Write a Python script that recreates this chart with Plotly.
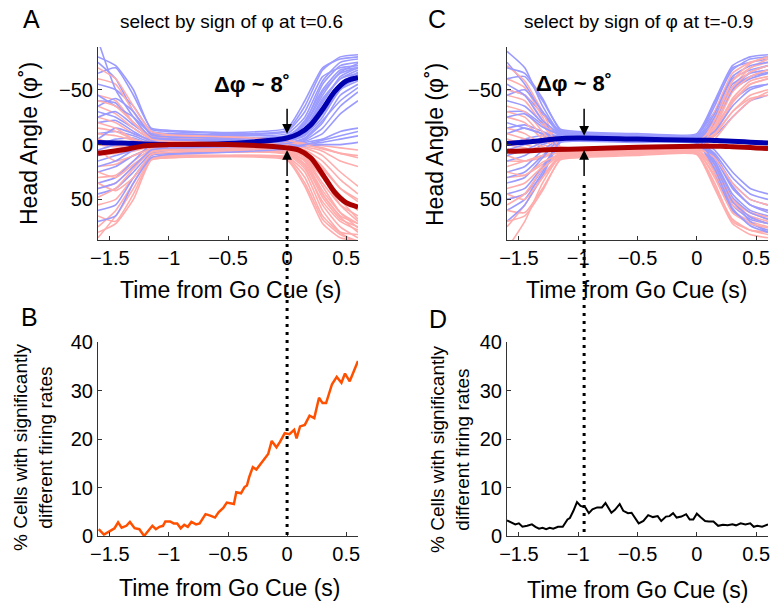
import plotly.graph_objects as go

# -----------------------------
# DATA
# -----------------------------
# time grid of the thin single-trial traces (s)
TRIAL_T = [-1.6, -1.45, -1.3, -1.15, -1.0, -0.5, 0.0, 0.15, 0.3, 0.45, 0.6]

# panel A: trials split by sign of phi at t=0.6
A_BLUE = [
    [-75, -60, -30, -10, -8, -6, -8, -20, -55, -72, -75],
    [-55, -50, -35, -12, -10, -9, -12, -30, -62, -70, -72],
    [-40, -38, -20, -8, -6, -5, -6, -15, -40, -60, -65],
    [-30, -25, -15, -5, -4, -3, -4, -10, -35, -55, -62],
    [-20, -22, -12, -3, -2, -2, -3, -8, -25, -50, -58],
    [-10, -12, -8, -2, -1, 0, -2, -5, -20, -45, -55],
    [0, -5, -6, 0, 0, 1, -1, -4, -15, -35, -48],
    [10, 5, 0, 2, 2, 2, 0, -3, -10, -28, -40],
    [25, 20, 10, 4, 3, 3, 1, -2, -5, -12, -15],
    [45, 40, 25, 8, 5, 4, 2, 0, -2, -5, -8],
    [60, 55, 30, 10, 8, 6, 3, 1, 0, 0, -2],
    [-65, -70, -45, -15, -13, -11, -15, -40, -70, -78, -80],
    [-45, -35, -25, -10, -10, -8, -10, -25, -58, -75, -78],
    [15, 10, 5, -2, -4, -5, -7, -18, -48, -65, -70],
    [35, 30, 15, 0, -1, -2, -5, -12, -30, -52, -60],
    [-95, -50, -25, -6, -5, -4, -6, -22, -50, -68, -70],
    [-80, -72, -50, -14, -12, -10, -13, -35, -68, -80, -82],
    [-35, -42, -30, -9, -7, -6, -8, -18, -45, -66, -74],
    [-25, -30, -18, -7, -5, -4, -7, -14, -38, -62, -70],
    [-5, -15, -10, -4, -3, -2, -4, -12, -30, -55, -66],
    [5, 0, -3, -1, -2, -1, -3, -9, -28, -50, -64],
    [20, 15, 5, -1, -2, -3, -5, -15, -42, -60, -68],
    [40, 35, 20, 5, 3, 2, -1, -6, -22, -40, -52],
    [70, 65, 35, 12, 9, 7, 4, 0, -4, -8, -12],
]
A_RED = [
    [75, 60, 35, 10, 8, 7, 8, 20, 55, 75, 85],
    [55, 50, 30, 12, 10, 10, 12, 30, 65, 80, 82],
    [40, 35, 20, 8, 7, 6, 7, 15, 45, 65, 72],
    [30, 28, 15, 5, 5, 4, 5, 12, 35, 55, 65],
    [20, 18, 10, 3, 3, 3, 4, 10, 28, 48, 60],
    [10, 8, 6, 2, 2, 2, 3, 6, 20, 40, 52],
    [0, 2, 2, 0, 0, 1, 2, 5, 15, 32, 45],
    [-10, -8, -4, -2, -1, 0, 1, 3, 10, 25, 38],
    [-25, -20, -10, -4, -3, -2, 0, 2, 6, 15, 20],
    [-45, -40, -20, -8, -6, -5, -2, 0, 3, 8, 10],
    [-60, -55, -30, -10, -8, -7, -4, -1, 1, 3, 5],
    [65, 70, 45, 14, 12, 11, 14, 38, 72, 85, 88],
    [85, 65, 40, 13, 11, 10, 11, 25, 60, 80, 90],
    [-15, -12, -5, 0, 2, 3, 6, 18, 48, 68, 75],
    [-35, -28, -15, -5, -2, 0, 3, 12, 30, 50, 58],
    [48, 40, 22, 6, 5, 5, 9, 22, 52, 70, 78],
    [80, 72, 50, 14, 12, 10, 13, 35, 68, 82, 88],
    [35, 42, 30, 9, 7, 6, 8, 18, 45, 66, 80],
    [25, 30, 18, 7, 5, 4, 7, 14, 38, 62, 76],
    [5, 15, 10, 4, 3, 2, 4, 12, 30, 55, 70],
    [-5, 0, 3, 1, 2, 1, 3, 9, 28, 50, 68],
    [-20, -15, -5, 1, 2, 3, 5, 15, 42, 62, 72],
    [-40, -35, -20, -5, -3, -2, 1, 6, 22, 40, 50],
    [-70, -60, -35, -12, -9, -7, -4, 0, 4, 8, 12],
]

# panel C: trials split by sign of phi at t=-0.9
C_BLUE = [
    [-75, -55, -30, -12, -10, -8, -8, -35, -70, -75, -78],
    [-50, -45, -28, -10, -9, -8, -9, -30, -60, -68, -72],
    [-30, -30, -18, -8, -7, -6, -6, -20, -50, -60, -65],
    [-15, -18, -12, -6, -6, -5, -5, -15, -40, -52, -55],
    [0, -5, -8, -5, -5, -4, -3, -8, -25, -40, -45],
    [15, 10, 0, -4, -4, -3, -2, 10, 35, 50, 55],
    [30, 25, 10, -3, -4, -3, -2, 15, 45, 60, 65],
    [45, 40, 20, -2, -3, -2, -1, 20, 55, 68, 72],
    [60, 50, 25, -4, -5, -4, -3, 25, 60, 72, 78],
    [-60, -62, -40, -14, -12, -10, -10, -40, -72, -80, -82],
    [-40, -35, -20, -9, -8, -7, -6, 5, 25, 40, 45],
    [25, 20, 5, -5, -6, -5, -4, 18, 50, 70, 80],
    [-20, -15, -10, -7, -7, -6, -4, -25, -55, -65, -68],
    [70, 55, 28, -2, -3, -3, -2, 12, 40, 55, 62],
    [-85, -70, -35, -11, -10, -8, -7, -28, -62, -72, -75],
    [5, 0, -4, -6, -6, -5, -4, 8, 30, 45, 50],
    [-70, -65, -42, -13, -11, -9, -8, -38, -68, -78, -80],
    [-45, -50, -30, -11, -10, -8, -7, -22, -52, -62, -66],
    [-10, -15, -10, -8, -8, -7, -5, 15, 48, 62, 68],
    [35, 30, 12, -6, -7, -6, -4, -20, -50, -66, -72],
    [50, 45, 22, -3, -4, -3, -2, 22, 58, 74, 80],
    [-25, -28, -16, -9, -9, -8, -6, 10, 38, 55, 60],
    [10, 5, -2, -5, -6, -5, -3, -12, -35, -50, -55],
    [-55, -45, -22, -10, -9, -7, -6, 18, 52, 66, 72],
]
C_RED = [
    [75, 55, 30, 12, 10, 8, 8, 35, 70, 78, 80],
    [50, 45, 28, 10, 9, 8, 7, 28, 60, 70, 75],
    [30, 28, 18, 8, 7, 6, 5, 20, 50, 62, 68],
    [15, 15, 12, 6, 6, 5, 4, 12, 38, 55, 60],
    [0, 3, 6, 5, 5, 4, 3, -10, -30, -45, -50],
    [-15, -10, 0, 4, 4, 3, 2, -15, -40, -55, -60],
    [-30, -25, -8, 3, 3, 2, 1, -18, -50, -62, -68],
    [-45, -40, -18, 2, 3, 2, 0, -25, -58, -70, -75],
    [-60, -52, -25, 3, 4, 3, 1, -30, -65, -75, -80],
    [60, 62, 40, 14, 12, 10, 9, 40, 72, 82, 85],
    [40, 35, 20, 9, 8, 7, 5, -8, -30, -42, -45],
    [-25, -20, -5, 5, 5, 4, 2, -20, -52, -70, -78],
    [20, 15, 10, 7, 7, 6, 4, 25, 55, 65, 70],
    [-72, -58, -30, 2, 3, 2, 1, -12, -42, -58, -62],
    [95, 70, 35, 11, 10, 8, 6, 30, 62, 72, 76],
    [-5, 0, 4, 6, 6, 5, 3, -5, -25, -40, -48],
    [70, 65, 42, 13, 11, 9, 8, 38, 68, 78, 82],
    [45, 50, 30, 11, 10, 8, 7, 22, 52, 62, 66],
    [10, 15, 10, 8, 8, 7, 5, -15, -48, -62, -68],
    [-35, -30, -12, 6, 7, 6, 4, 20, 50, 66, 72],
    [-50, -45, -22, 3, 4, 3, 2, -22, -58, -74, -80],
    [25, 28, 16, 9, 9, 8, 6, -10, -38, -55, -60],
    [-10, -5, 2, 5, 6, 5, 3, 12, 35, 50, 55],
    [55, 45, 22, 10, 9, 7, 6, -18, -52, -66, -72],
]

# mean traces
MEAN_T = [-1.6, -1.4, -1.2, -1.0, -0.5, 0.0, 0.1, 0.2, 0.3, 0.4, 0.5, 0.6]
A_BLUE_MEAN = [-2, -1.5, -0.5, 0, -1, -6, -10, -18, -32, -48, -58, -61]
A_RED_MEAN = [8, 5, 1, 0, 0, 3, 5, 12, 27, 43, 53, 57]
C_BLUE_MEAN = [-1, -2.5, -5, -6, -5, -4, -4, -3.5, -3, -2.5, -2, -1.5]
C_RED_MEAN = [6, 5.5, 4.5, 4, 2.5, 1.5, 1.5, 1.5, 2, 2.5, 3, 3.5]

# panel B: % cells (selection at t=0.6)
B_T = [-1.594, -1.55, -1.5, -1.46, -1.43, -1.40, -1.36, -1.33, -1.29, -1.25,
       -1.21, -1.18, -1.14, -1.11, -1.08, -1.05, -1.03, -0.99, -0.96, -0.93,
       -0.90, -0.87, -0.84, -0.81, -0.77, -0.74, -0.71, -0.69, -0.65, -0.61,
       -0.58, -0.54, -0.51, -0.48, -0.45, -0.43, -0.39, -0.36, -0.34, -0.32,
       -0.29, -0.26, -0.23, -0.20, -0.16, -0.13, -0.09, -0.06, -0.02, 0.02,
       0.06, 0.08, 0.11, 0.15, 0.19, 0.23, 0.27, 0.30, 0.33, 0.38,
       0.42, 0.46, 0.49, 0.53, 0.60]
B_PCT = [1.4, 0.3, 1.0, 1.6, 2.8, 1.7, 2.1, 2.9, 1.6, 1.4,
         0.0, 1.0, 2.1, 1.4, 1.9, 2.1, 3.0, 3.0, 2.6, 2.6,
         1.6, 2.3, 1.9, 2.9, 2.4, 2.6, 3.8, 4.5, 4.2, 3.8,
         4.9, 5.8, 6.9, 6.8, 6.6, 9.0, 8.8, 10.1, 10.4, 12.2,
         14.2, 13.7, 14.6, 15.6, 16.9, 19.6, 18.3, 19.4, 21.2, 21.0,
         21.9, 20.1, 22.6, 22.9, 24.8, 24.3, 28.5, 27.4, 27.4, 31.3,
         32.8, 31.6, 33.5, 31.9, 36.1]

# panel D: % cells (selection at t=-0.9)
D_T = [-1.60, -1.56, -1.53, -1.50, -1.47, -1.43, -1.39, -1.36, -1.33, -1.30,
       -1.27, -1.24, -1.21, -1.17, -1.13, -1.09, -1.07, -1.04, -1.01, -0.98,
       -0.94, -0.91, -0.88, -0.84, -0.80, -0.77, -0.72, -0.69, -0.65, -0.62,
       -0.58, -0.55, -0.51, -0.49, -0.45, -0.41, -0.37, -0.33, -0.30, -0.26,
       -0.23, -0.20, -0.17, -0.13, -0.09, -0.06, -0.03, 0.00, 0.03, 0.07,
       0.10, 0.14, 0.18, 0.22, 0.26, 0.30, 0.33, 0.37, 0.41, 0.45,
       0.48, 0.51, 0.55, 0.60]
D_PCT = [3.2, 2.8, 2.4, 2.6, 1.9, 2.1, 2.4, 1.9, 1.5, 1.7,
         1.4, 1.7, 1.5, 1.9, 1.9, 3.4, 3.7, 5.2, 7.0, 6.2,
         5.9, 4.7, 5.5, 5.9, 5.9, 6.8, 4.8, 5.4, 6.6, 5.2,
         4.7, 4.8, 3.3, 2.6, 3.1, 4.3, 3.9, 4.1, 3.1, 4.0,
         4.1, 4.7, 3.8, 4.0, 4.5, 3.4, 3.4, 4.6, 3.9, 3.1,
         3.0, 3.0, 2.1, 2.3, 2.2, 2.4, 2.2, 2.6, 2.4, 2.6,
         1.9, 2.1, 1.9, 2.4]

SEL_T_A = 0.0
SEL_T_C = -0.95
X_TICKS = [-1.5, -1, -0.5, 0, 0.5]

# -----------------------------
# styling
# -----------------------------
W, H = 773, 606
FONT = "Liberation Sans, Arial, Helvetica, sans-serif"
LIGHT_BLUE = "rgb(155,155,255)"
LIGHT_RED = "rgb(255,172,172)"
DARK_BLUE = "rgb(0,0,175)"
DARK_RED = "rgb(170,0,0)"


def px_x(p):
    return p / W


def px_y(p):
    return 1 - p / H


fig = go.Figure()


def add_trials(blue, red, xa, ya):
    for b, r in zip(blue, red):
        for ys, col in ((r, LIGHT_RED), (b, LIGHT_BLUE)):
            fig.add_trace(go.Scatter(
                x=TRIAL_T, y=ys, xaxis=xa, yaxis=ya, mode="lines",
                line=dict(color=col, width=1.6, shape="spline", smoothing=0.5),
                hoverinfo="skip", showlegend=False))


def add_means(bm, rm, xa, ya):
    for ys, col in ((bm, DARK_BLUE), (rm, DARK_RED)):
        fig.add_trace(go.Scatter(
            x=MEAN_T, y=ys, xaxis=xa, yaxis=ya, mode="lines",
            line=dict(color=col, width=5, shape="spline", smoothing=0.8),
            showlegend=False))


add_trials(A_BLUE, A_RED, "x", "y")
add_means(A_BLUE_MEAN, A_RED_MEAN, "x", "y")
add_trials(C_BLUE, C_RED, "x2", "y2")
add_means(C_BLUE_MEAN, C_RED_MEAN, "x2", "y2")

fig.add_trace(go.Scatter(x=B_T, y=B_PCT, xaxis="x3", yaxis="y3", mode="lines",
                         line=dict(color="rgb(255,80,0)", width=2.5),
                         showlegend=False))
fig.add_trace(go.Scatter(x=D_T, y=D_PCT, xaxis="x4", yaxis="y4", mode="lines",
                         line=dict(color="black", width=2),
                         showlegend=False))

axis_common = dict(showgrid=False, zeroline=False, showline=True, automargin=False,
                   linecolor="#333", linewidth=1, ticks="inside", ticklen=4,
                   tickcolor="#333", tickfont=dict(size=20, color="black"))

top_dom = [px_y(240), px_y(47)]
bot_dom = [px_y(536), px_y(342)]
left_dom = [px_x(98), px_x(358)]
right_dom = [px_x(507), px_x(768)]

fig.update_layout(
    width=W, height=H, margin=dict(l=0, r=0, t=0, b=0, pad=0, autoexpand=False),
    paper_bgcolor="white", plot_bgcolor="white", showlegend=False,
    font=dict(family=FONT, color="black"),
    xaxis=dict(domain=left_dom, anchor="y", range=[-1.6, 0.6], tickvals=X_TICKS, **axis_common),
    yaxis=dict(domain=top_dom, anchor="x", range=[87, -89], tickvals=[-50, 0, 50], **axis_common),
    xaxis2=dict(domain=right_dom, anchor="y2", range=[-1.6, 0.6], tickvals=X_TICKS, **axis_common),
    yaxis2=dict(domain=top_dom, anchor="x2", range=[87, -89], tickvals=[-50, 0, 50], **axis_common),
    xaxis3=dict(domain=left_dom, anchor="y3", range=[-1.6, 0.6], tickvals=X_TICKS, **axis_common),
    yaxis3=dict(domain=bot_dom, anchor="x3", range=[0, 40], tickvals=[0, 10, 20, 30, 40], **axis_common),
    xaxis4=dict(domain=right_dom, anchor="y4", range=[-1.6, 0.6], tickvals=X_TICKS, **axis_common),
    yaxis4=dict(domain=bot_dom, anchor="x4", range=[0, 40], tickvals=[0, 10, 20, 30, 40], **axis_common),
)

# dotted selection lines spanning both rows
for xa, t, y_top, y_bot in (("x", SEL_T_A, 180, 535), ("x2", SEL_T_C, 180, 532)):
    fig.add_shape(type="line", xref=xa, yref="paper", x0=t, x1=t,
                  y0=px_y(y_bot), y1=px_y(y_top),
                  line=dict(color="black", width=3, dash="3px,5px"))

# arrows
for xa, ya, t, up_tail, up_head, dn_tail, dn_head in (
        ("x", "y", SEL_T_A, -34, -10, 30, 5),
        ("x2", "y2", SEL_T_C, -34, -8, 30, 5)):
    for tail, head in ((up_tail, up_head), (dn_tail, dn_head)):
        fig.add_annotation(x=t, y=head, ax=t, ay=tail, xref=xa, yref=ya,
                           axref=xa, ayref=ya, text="", showarrow=True,
                           arrowhead=2, arrowsize=1.3, arrowwidth=1.5,
                           arrowcolor="black")

texts = [
    # (text, x px, y px, size, angle)
    ("A", 31, 19, 25, 0),
    ("C", 437, 19, 25, 0),
    ("B", 30, 317, 25, 0),
    ("D", 438, 319, 25, 0),
    ("select by sign of φ at t=0.6", 231, 21, 19, 0),
    ("select by sign of φ at t=-0.9", 638, 21, 19, 0),
    ("<b>Δφ ~ 8˚</b>", 252, 84, 22, 0),
    ("<b>Δφ ~ 8˚</b>", 574, 83, 22, 0),
    ("Time from Go Cue (s)", 231, 290, 23, 0),
    ("Time from Go Cue (s)", 637, 290, 23, 0),
    ("Time from Go Cue (s)", 230, 588, 23, 0),
    ("Time from Go Cue (s)", 638, 590, 23, 0),
    ("Head Angle (φ˚)", 29, 144, 23, -90),
    ("Head Angle (φ˚)", 435, 144, 23, -90),
    ("% Cells with significantly<br>different firing rates", 33, 448, 19, -90),
    ("% Cells with significantly<br>different firing rates", 450, 450, 19, -90),
]
for txt, x, y, size, ang in texts:
    fig.add_annotation(text=txt, x=px_x(x), y=px_y(y), xref="paper", yref="paper",
                       showarrow=False, xanchor="center", yanchor="middle",
                       textangle=ang, font=dict(size=size, family=FONT, color="black"))

# page body has a default 8px margin; drop it so the figure sits at the corner
fig.write_html("out.html", config={"displayModeBar": False},
               post_script="document.body.style.margin='0';")
